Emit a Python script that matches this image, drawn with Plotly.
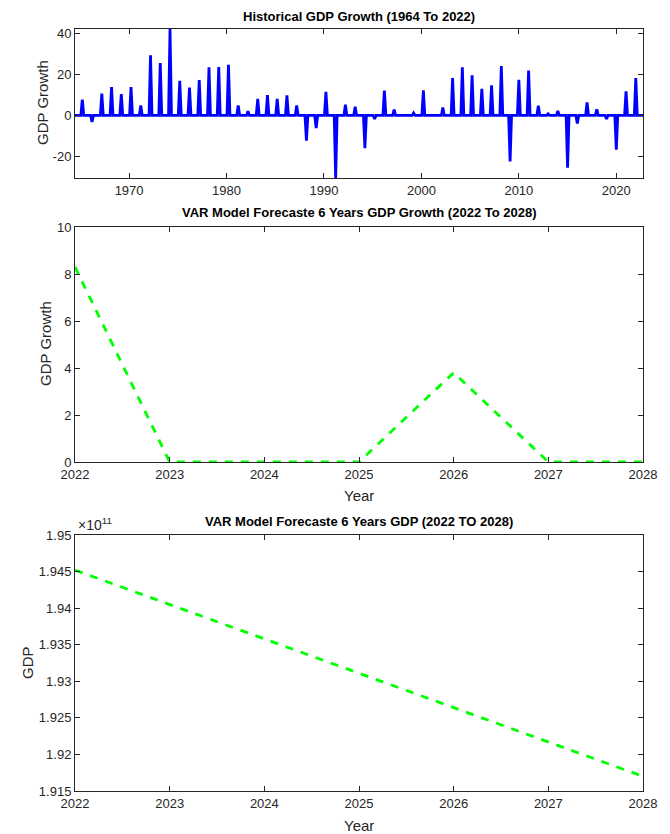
import plotly.graph_objects as go

# ---------------- data ----------------
hist_years = list(range(1965, 2023))
hist_growth = [7.7, -3.2, 10.6, 13.8, 10.4, 13.8, 4.9, 29.3, 25.5, 42.1,
               16.8, 13.6, 17.2, 23.4, 23.6, 24.7, 4.8, 2.0, 8.1, 9.9,
               8.1, 9.8, 4.9, -12.3, -6.2, 11.5, -30.5, 5.2, 4.2, -16.0,
               -1.7, 12.1, 2.8, 0.0, 1.2, 12.2, 0.0, 3.8, 18.2, 23.4,
               19.5, 13.0, 14.6, 24.1, -22.4, 17.4, 21.8, 4.7, 0.8, 2.2,
               -25.5, -3.9, 6.3, 2.9, -1.8, -16.7, 11.7, 18.2]

fc_years = [2022, 2023, 2024, 2025, 2026, 2027, 2028]
fc_growth = [8.3, 0.0, 0.0, 0.0, 3.8, 0.0, 0.0]
fc_gdp = [1.9452e11, 1.9405e11, 1.9358e11, 1.9311e11, 1.9264e11, 1.9217e11, 1.9170e11]

top_yticks = [-20, 0, 20, 40]
top_xticks = [1970, 1980, 1990, 2000, 2010, 2020]
mid_yticks = [0, 2, 4, 6, 8, 10]
gdp_ticks = [1.915, 1.92, 1.925, 1.93, 1.935, 1.94, 1.945, 1.95]

# build historical line: each annual value drawn as a narrow peak, zero between
hx, hy = [1964.45], [0.0]
for yr, v in zip(hist_years, hist_growth):
    off = 0.2 if yr <= 2008 else (0.1 if yr == 2009 else 0.0)
    c = yr + off
    hx += [c - 0.15, c, c + 0.15]
    hy += [0.0, v, 0.0]
hx.append(2022.74)
hy.append(0.0)

FONT = "Liberation Sans, Arial, sans-serif"
AX = "#262626"

fig = go.Figure()
fig.add_trace(go.Scatter(x=hx, y=hy, mode="lines", line=dict(color="#0000FF", width=2.8),
                         xaxis="x", yaxis="y", showlegend=False))
fig.add_trace(go.Scatter(x=fc_years, y=fc_growth, mode="lines",
                         line=dict(color="#00FF00", width=2.8, dash="8px,8px"),
                         xaxis="x2", yaxis="y2", showlegend=False))
fig.add_trace(go.Scatter(x=fc_years, y=[g / 1e11 for g in fc_gdp], mode="lines",
                         line=dict(color="#00FF00", width=2.8, dash="8px,8px"),
                         xaxis="x3", yaxis="y3", showlegend=False))

W, H = 670, 834
def px_x(p): return p / W
def px_y(p): return 1 - p / H

axis_common = dict(showline=True, linecolor=AX, linewidth=1, mirror="allticks",
                   ticks="inside", ticklen=5, tickcolor=AX, showgrid=False, zeroline=False,
                   automargin=False, tickfont=dict(family=FONT, size=13, color=AX))

xd = [px_x(75), px_x(643)]
fig.update_layout(
    width=W, height=H, margin=dict(l=0, r=0, t=0, b=0, autoexpand=False),
    paper_bgcolor="white", plot_bgcolor="white",
    xaxis=dict(domain=xd, anchor="y", range=[1964.45, 2022.74], tickvals=top_xticks,
               ticktext=[str(t) for t in top_xticks], **axis_common),
    yaxis=dict(domain=[px_y(178), px_y(29)], anchor="x", range=[-30.5, 42.1],
               tickvals=top_yticks, ticktext=[str(t) for t in top_yticks], **axis_common),
    xaxis2=dict(domain=xd, anchor="y2", range=[2022, 2028], tickvals=fc_years,
                ticktext=[str(t) for t in fc_years], **axis_common),
    yaxis2=dict(domain=[px_y(462), px_y(227)], anchor="x2", range=[0, 10],
                tickvals=mid_yticks, ticktext=[str(t) for t in mid_yticks], **axis_common),
    xaxis3=dict(domain=xd, anchor="y3", range=[2022, 2028], tickvals=fc_years,
                ticktext=[str(t) for t in fc_years], **axis_common),
    yaxis3=dict(domain=[px_y(791), px_y(535)], anchor="x3", range=[1.915, 1.95],
                tickvals=gdp_ticks, ticktext=[("%g" % t) for t in gdp_ticks], **axis_common),
)

def ann(text, x, y, size=14, bold=False, angle=0, xanchor="center", yanchor="middle"):
    fig.add_annotation(text=("<b>%s</b>" % text) if bold else text, x=px_x(x), y=px_y(y),
                       xref="paper", yref="paper", showarrow=False, textangle=angle,
                       xanchor=xanchor, yanchor=yanchor,
                       font=dict(family=FONT, size=size, color="#000000" if bold else AX))

ann("Historical GDP Growth (1964 To 2022)", 359, 17, size=13, bold=True)
ann("VAR Model Forecaste 6 Years GDP Growth (2022 To 2028)", 359, 213, size=13, bold=True)
ann("VAR Model Forecaste 6 Years GDP (2022 TO 2028)", 359, 521, size=13, bold=True)
ann("GDP Growth", 42, 103, size=15, angle=-90)
ann("GDP Growth", 45, 344, size=15, angle=-90)
ann("GDP", 27, 663, size=15, angle=-90)
ann("Year", 359, 495, size=15)
ann("Year", 359, 825, size=15)
ann("×10<sup>11</sup>", 76, 524, size=14, xanchor="left")

fig.write_html("out.html", config={"displayModeBar": False},
               post_script="document.body.style.margin='0';document.body.style.overflow='hidden';")
